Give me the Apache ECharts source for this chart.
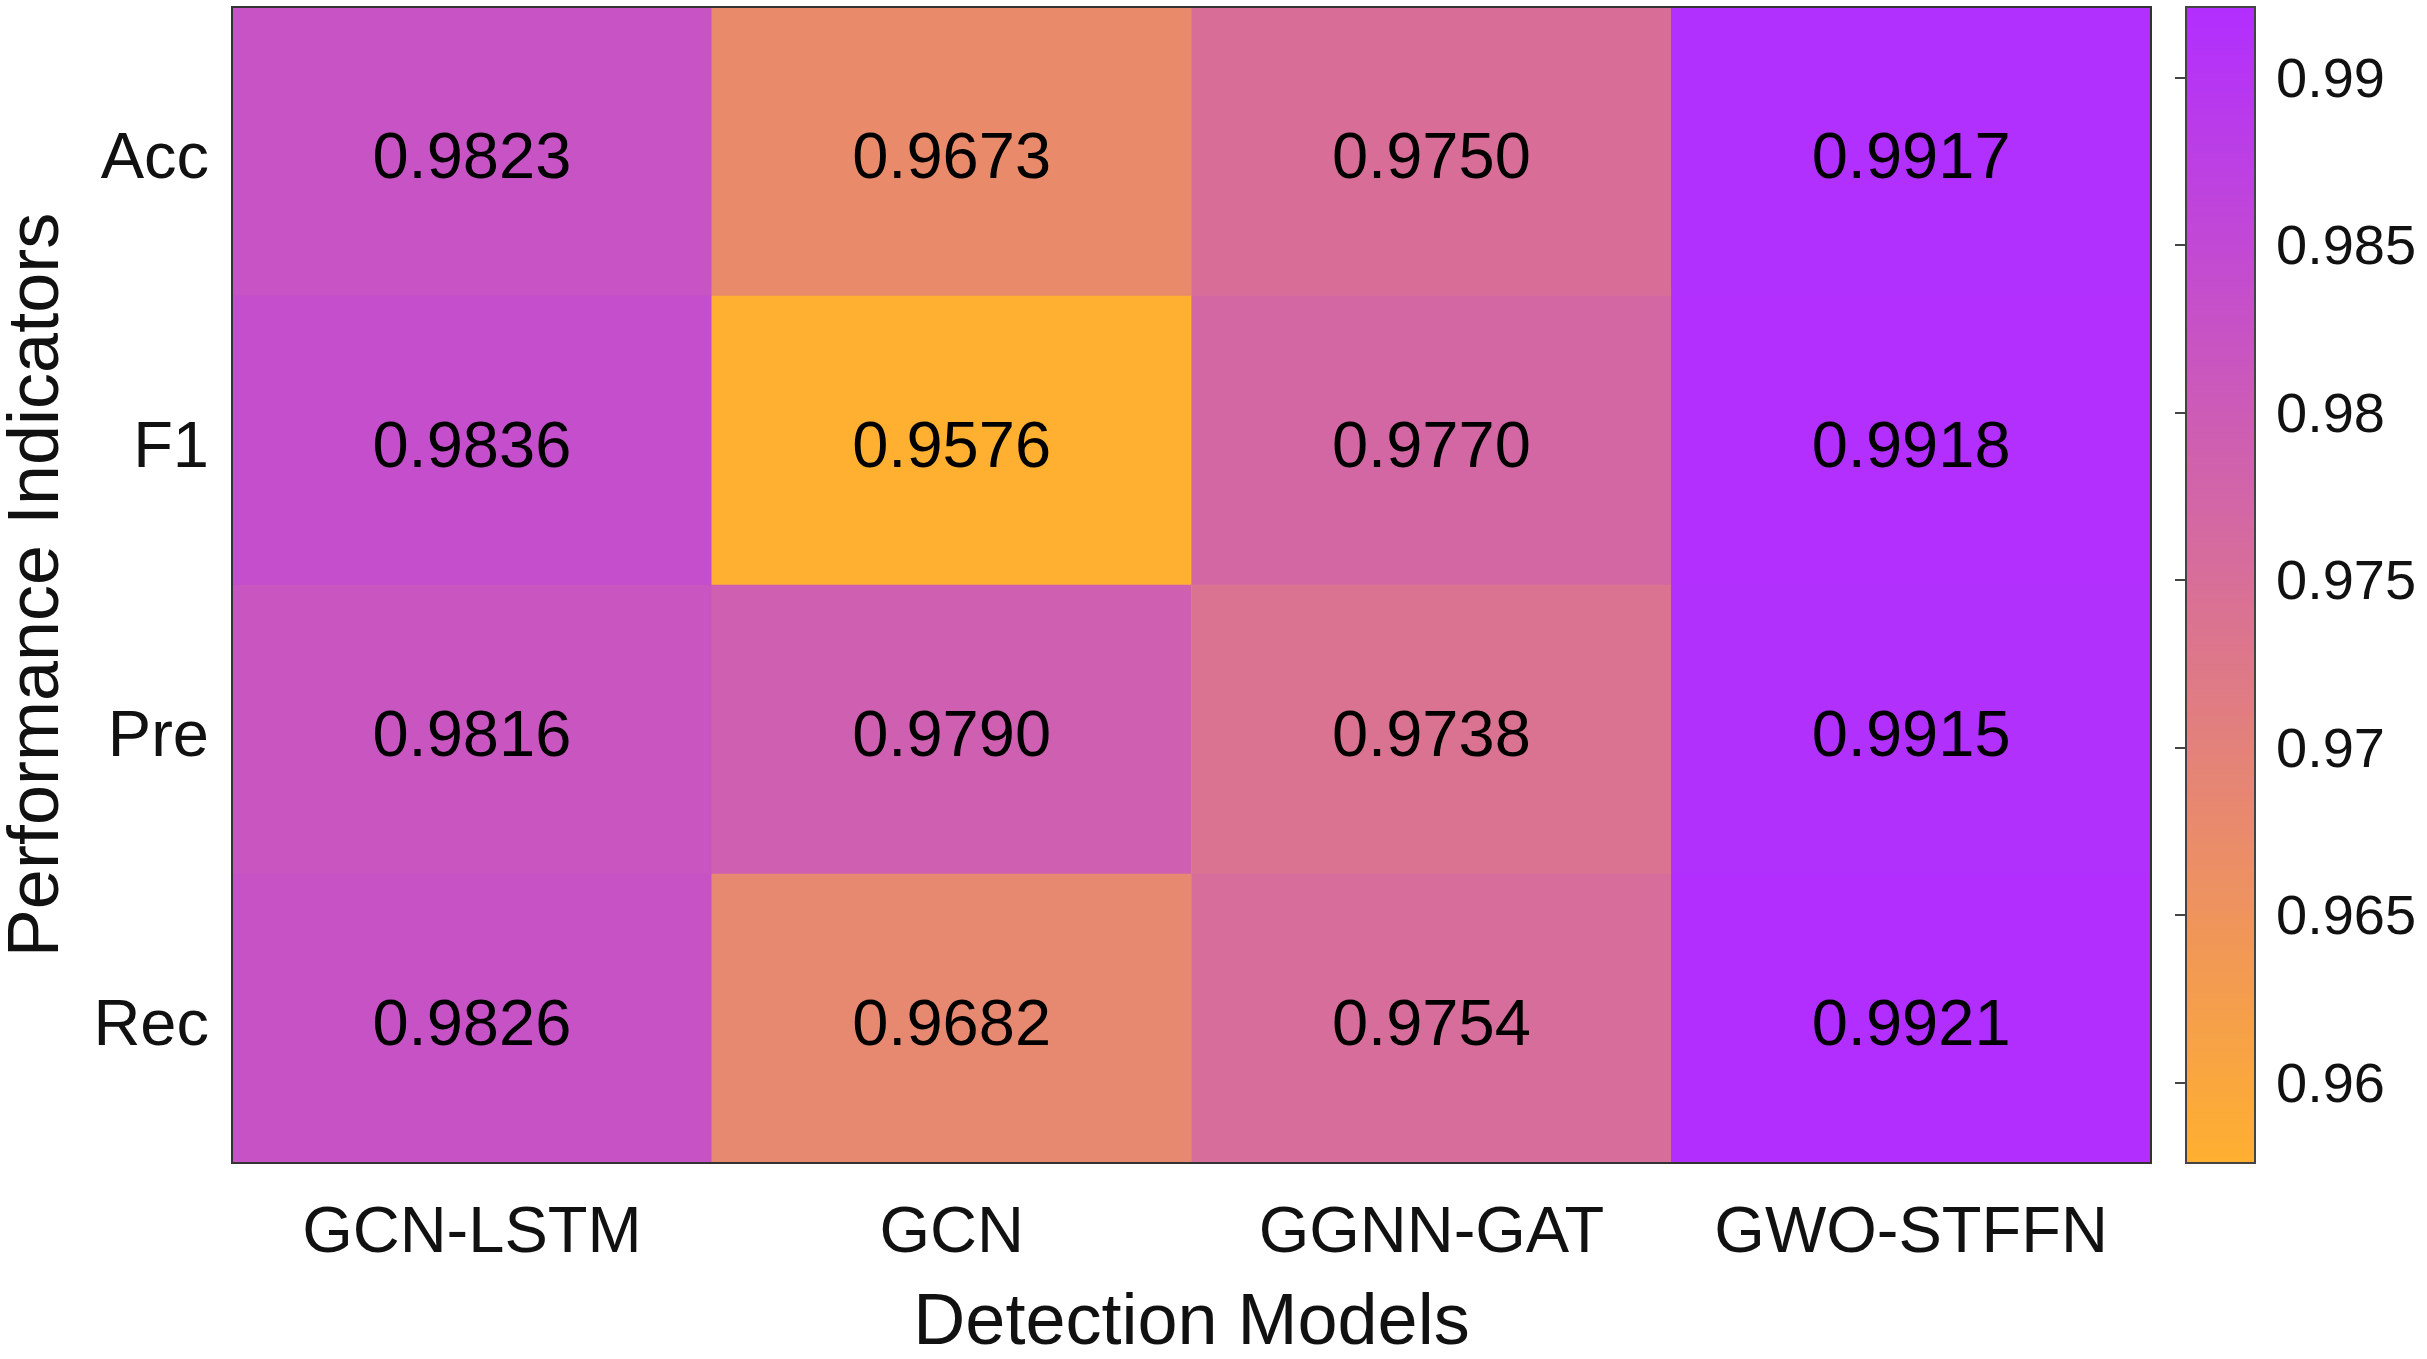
<!DOCTYPE html>
<html>
<head>
<meta charset="utf-8">
<title>Detection Models heatmap</title>
<script src="https://cdn.jsdelivr.net/npm/echarts@6/dist/echarts.min.js"></script>
<style>
  html, body { margin: 0; padding: 0; background: #fff; }
  #chart { width: 2427px; height: 1359px; }
</style>
</head>
<body>
<div id="chart"></div>
<script>
// categories
const models = ["GCN-LSTM", "GCN", "GGNN-GAT", "GWO-STFFN"];
const indicators = ["Acc", "F1", "Pre", "Rec"];

// values, one array per indicator (same order as models)
const accValues = [0.9823, 0.9673, 0.9750, 0.9917];
const f1Values = [0.9836, 0.9576, 0.9770, 0.9918];
const preValues = [0.9816, 0.9790, 0.9738, 0.9915];
const recValues = [0.9826, 0.9682, 0.9754, 0.9921];

// colorbar ticks
const colorbarTicks = [0.96, 0.965, 0.97, 0.975, 0.98, 0.985, 0.99];

const FONT = "Liberation Sans, Arial, sans-serif";
const rows = [accValues, f1Values, preValues, recValues];

// heatmap data -> [xIndex, yIndex, value]
const heatData = [];
rows.forEach((row, yi) => {
  row.forEach((v, xi) => heatData.push([xi, yi, v]));
});
const allValues = rows.flat();
const vMin = Math.min(...allValues);
const vMax = Math.max(...allValues);

const chart = echarts.init(document.getElementById("chart"));

const option = {
  animation: false,
  backgroundColor: "#ffffff",
  textStyle: { fontFamily: FONT },
  grid: [
    {
      // main heatmap
      left: 232,
      top: 7,
      width: 1919,
      height: 1156,
      outerBoundsMode: "none",
      containLabel: false,
      show: true,
      borderColor: "#333333",
      borderWidth: 2,
      backgroundColor: "transparent",
      z: 5,
    },
    {
      // colorbar frame + ticks
      left: 2186,
      top: 7,
      width: 69,
      height: 1156,
      outerBoundsMode: "none",
      containLabel: false,
      show: true,
      borderColor: "#444444",
      borderWidth: 2,
      backgroundColor: "transparent",
      z: 10,
    },
  ],
  xAxis: [
    {
      type: "category",
      gridIndex: 0,
      data: models,
      axisLine: { show: false },
      axisTick: { show: false },
      splitLine: { show: false },
      axisLabel: {
        interval: 0,
        fontSize: 65,
        color: "#111",
        margin: 39,
        fontFamily: FONT,
      },
      name: "Detection Models",
      nameLocation: "middle",
      nameGap: 125,
      nameTextStyle: { fontSize: 72, color: "#111", fontFamily: FONT },
    },
    {
      type: "value",
      gridIndex: 1,
      show: false,
    },
  ],
  yAxis: [
    {
      type: "category",
      gridIndex: 0,
      data: indicators,
      inverse: true,
      axisLine: { show: false },
      axisTick: { show: false },
      splitLine: { show: false },
      axisLabel: {
        interval: 0,
        color: "#111",
        margin: 23,
        fontFamily: FONT,
        // push text a little below the row centre, like the original
        formatter: (v) => "{t|" + v + "}",
        rich: { t: { fontSize: 65, color: "#111", fontFamily: FONT, padding: [18, 0, 0, 0] } },
      },
      name: "Performance Indicators",
      nameLocation: "middle",
      nameGap: 158,
      nameTextStyle: { fontSize: 72, color: "#111", fontFamily: FONT },
    },
    {
      type: "value",
      gridIndex: 1,
      position: "right",
      min: vMin,
      max: vMax,
      axisLine: { show: false },
      splitLine: { show: false },
      axisTick: {
        show: true,
        inside: true,
        length: 11,
        customValues: colorbarTicks,
        lineStyle: { color: "#444", width: 2 },
      },
      axisLabel: {
        color: "#111",
        margin: 21,
        fontFamily: FONT,
        customValues: colorbarTicks,
        formatter: (v) => "{t|" + String(+v.toFixed(3)) + "}",
        rich: { t: { fontSize: 56, color: "#111", fontFamily: FONT, padding: [8, 0, 0, 0] } },
      },
    },
  ],
  visualMap: {
    type: "continuous",
    min: vMin,
    max: vMax,
    calculable: false,
    orient: "vertical",
    left: 2186,
    top: 7,
    padding: 0,
    itemWidth: 69,
    itemHeight: 1156,
    text: null,
    showLabel: false,
    seriesIndex: 0,
    inRange: { color: ["#FFB030", "#B12EFF"] },
  },
  series: [
    {
      type: "heatmap",
      xAxisIndex: 0,
      yAxisIndex: 0,
      data: heatData,
      label: {
        show: true,
        fontSize: 65,
        color: "#000",
        fontFamily: FONT,
        offset: [0, 9],
        formatter: (p) => p.value[2].toFixed(4),
      },
      itemStyle: { borderWidth: 0 },
      emphasis: { disabled: true },
    },
  ],
};

chart.setOption(option);
</script>
</body>
</html>
